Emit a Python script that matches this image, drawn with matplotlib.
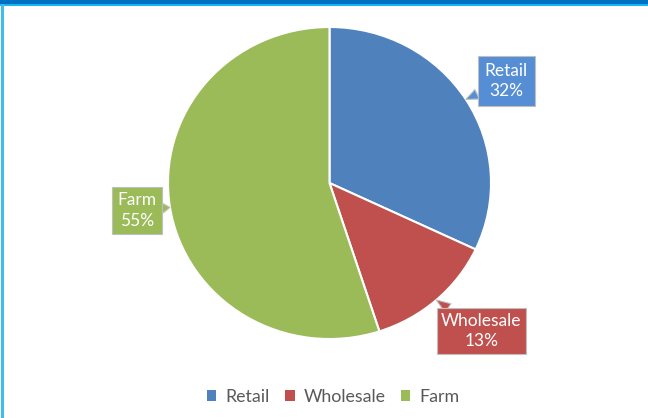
import numpy as np
import matplotlib.pyplot as plt
from matplotlib.patches import Rectangle

plt.rcParams['font.family'] = ['Lato', 'DejaVu Sans']

categories = ["Retail", "Wholesale", "Farm"]
shares = [32, 13, 55]
wedge_colors = ["#4F81BD", "#C0504D", "#9BBB59"]
label_colors = ["#558ED5", "#C0504D", "#9BBB59"]
# callout box centres in pie units
label_xy = [(1.093, 0.654), (0.941, -0.949), (-1.192, -0.176)]
label_pad = [0.4, 0.25, 0.3]

fig = plt.figure(figsize=(6.48, 4.18), dpi=100)

# frame decoration: dark top band with a cyan rule, light blue left edge
fig.patches.append(Rectangle((0, 1 - 4 / 418), 1, 4 / 418, transform=fig.transFigure,
                             facecolor="#0070C0", edgecolor="none", zorder=0))
fig.patches.append(Rectangle((0, 1 - 6 / 418), 1, 2 / 418, transform=fig.transFigure,
                             facecolor="#19B5F0", edgecolor="none", zorder=0))
fig.patches.append(Rectangle((1 / 648, 0), 2.5 / 648, 1 - 4 / 418, transform=fig.transFigure,
                             facecolor="#40BDEB", edgecolor="none", zorder=0))

ax = fig.add_axes([168 / 648, 79 / 418, 323 / 648, 312 / 418])
wedges, _ = ax.pie(shares, colors=wedge_colors, startangle=90, counterclock=False,
                   radius=1, wedgeprops=dict(edgecolor="white", linewidth=1.5))
ax.set_xlim(-1, 1)
ax.set_ylim(-1, 1)
ax.set_aspect("auto")
ax.axis("off")

for w, name, val, col, pos, p in zip(wedges, categories, shares, label_colors,
                                     label_xy, label_pad):
    mid = np.deg2rad((w.theta1 + w.theta2) / 2)
    tip = (np.cos(mid), np.sin(mid))
    ax.annotate(f"{name}\n{val}%", xy=tip, xytext=pos, ha="center", va="center",
                fontsize=12.5, color="white", linespacing=1.35, annotation_clip=False,
                bbox=dict(boxstyle=f"square,pad={p}", fc=col, ec="#BFBFBF", lw=0.8),
                arrowprops=dict(arrowstyle="wedge,tail_width=0.6,shrink_factor=0.5",
                                fc=col, ec="#BFBFBF", lw=0.8, shrinkA=0, shrinkB=0))

handles = [Rectangle((0, 0), 1, 1, fc=c, ec="none") for c in wedge_colors]
fig.legend(handles, categories, loc="center", bbox_to_anchor=(333 / 648, 21 / 418),
           ncol=3, frameon=False, fontsize=12.8, handlelength=0.55, handleheight=0.55,
           handletextpad=0.5, columnspacing=0.85, labelcolor="#595959")

fig.savefig("out.png", dpi=100)
